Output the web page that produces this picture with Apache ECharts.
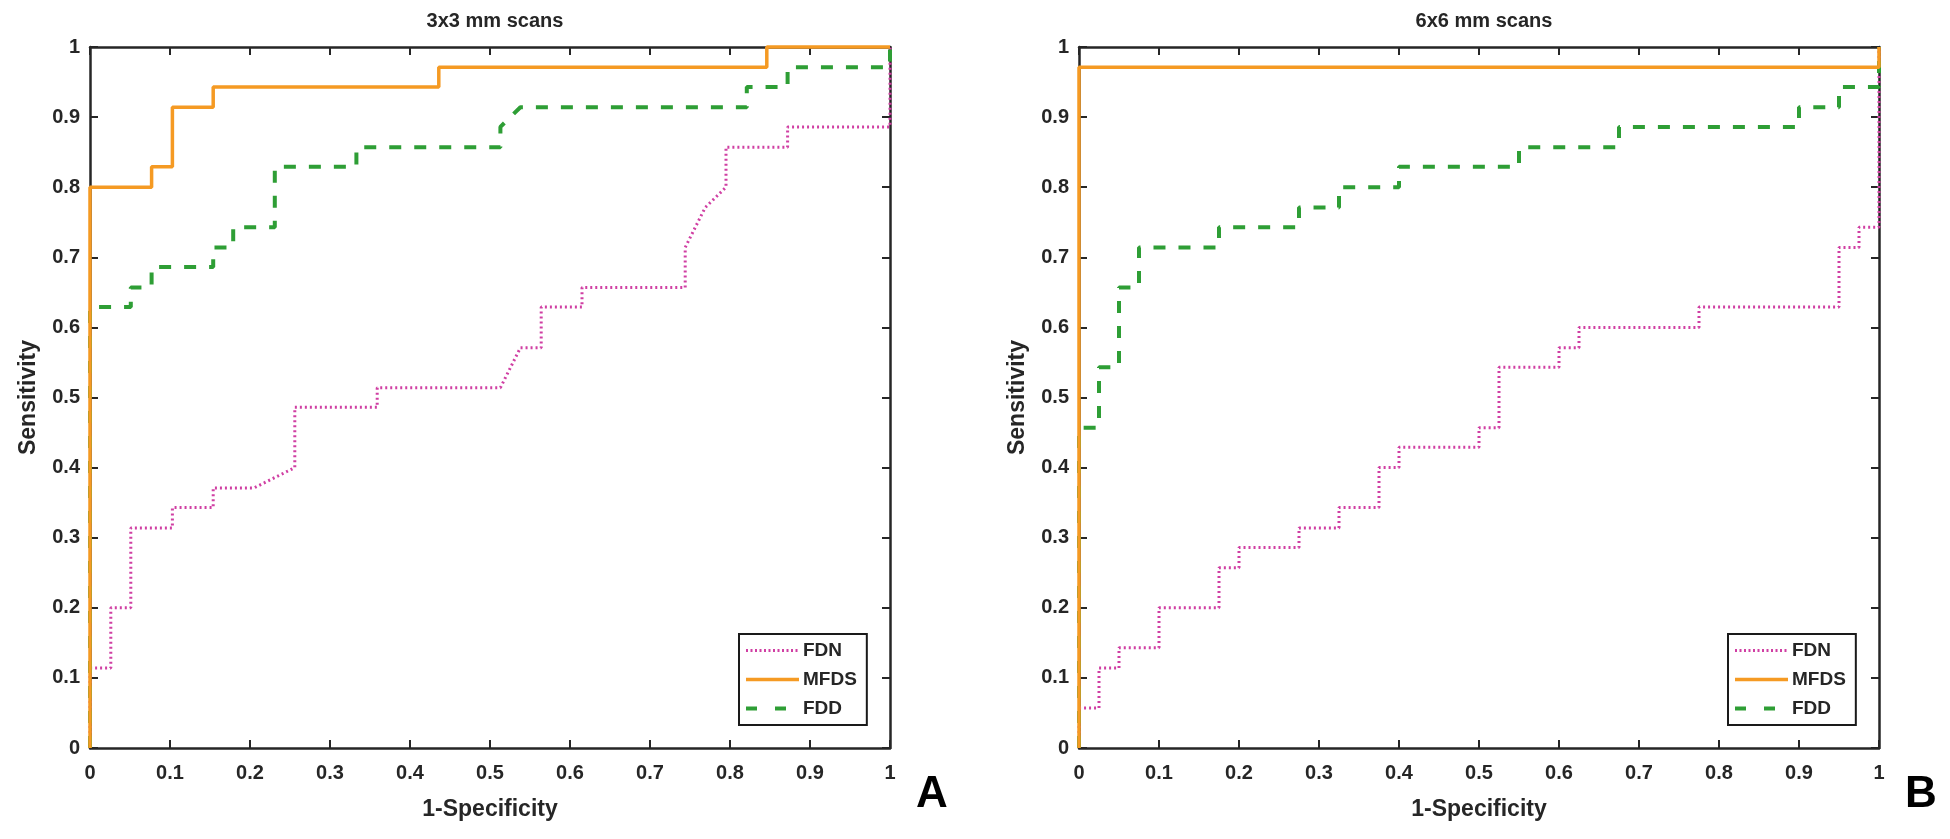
<!DOCTYPE html>
<html>
<head>
<meta charset="utf-8">
<script src="https://cdn.jsdelivr.net/npm/echarts@6/dist/echarts.min.js"></script>
<style>
html,body{margin:0;padding:0;background:#ffffff;}
#chart{width:1950px;height:839px;}
</style>
</head>
<body>
<div id="chart"></div>
<script>
// ---- text ----
const panelTitles = ['3x3 mm scans', '6x6 mm scans'];
const panelLetters = ['A', 'B'];
const seriesNames = ['FDN', 'MFDS', 'FDD'];
const xAxisName = '1-Specificity';
const yAxisName = 'Sensitivity';

// ---- panel A (3x3 mm) ----
const aFdnX  = [0, 0, 0.026, 0.026, 0.051, 0.051, 0.103, 0.103, 0.154, 0.154, 0.205, 0.256, 0.256, 0.359, 0.359, 0.513, 0.538, 0.564, 0.564, 0.615, 0.615, 0.744, 0.744, 0.769, 0.795, 0.795, 0.872, 0.872, 1, 1];
const aFdnY  = [0, 0.114, 0.114, 0.2, 0.2, 0.314, 0.314, 0.343, 0.343, 0.371, 0.371, 0.4, 0.486, 0.486, 0.514, 0.514, 0.571, 0.571, 0.629, 0.629, 0.657, 0.657, 0.714, 0.771, 0.8, 0.857, 0.857, 0.886, 0.886, 1];
const aMfdsX = [0, 0, 0.077, 0.077, 0.103, 0.103, 0.154, 0.154, 0.436, 0.436, 0.846, 0.846, 1];
const aMfdsY = [0, 0.8, 0.8, 0.829, 0.829, 0.914, 0.914, 0.943, 0.943, 0.971, 0.971, 1, 1];
const aFddX  = [0, 0, 0.051, 0.051, 0.077, 0.077, 0.154, 0.154, 0.179, 0.179, 0.231, 0.231, 0.333, 0.333, 0.513, 0.513, 0.538, 0.821, 0.821, 0.872, 0.872, 1, 1];
const aFddY  = [0, 0.629, 0.629, 0.657, 0.657, 0.686, 0.686, 0.714, 0.714, 0.743, 0.743, 0.829, 0.829, 0.857, 0.857, 0.886, 0.914, 0.914, 0.943, 0.943, 0.971, 0.971, 1];

// ---- panel B (6x6 mm) ----
const bFdnX  = [0, 0, 0.025, 0.025, 0.05, 0.05, 0.1, 0.1, 0.175, 0.175, 0.2, 0.2, 0.275, 0.275, 0.325, 0.325, 0.375, 0.375, 0.4, 0.4, 0.5, 0.5, 0.525, 0.525, 0.6, 0.6, 0.625, 0.625, 0.775, 0.775, 0.95, 0.95, 0.975, 0.975, 1, 1];
const bFdnY  = [0, 0.057, 0.057, 0.114, 0.114, 0.143, 0.143, 0.2, 0.2, 0.257, 0.257, 0.286, 0.286, 0.314, 0.314, 0.343, 0.343, 0.4, 0.4, 0.429, 0.429, 0.457, 0.457, 0.543, 0.543, 0.571, 0.571, 0.6, 0.6, 0.629, 0.629, 0.714, 0.714, 0.743, 0.743, 1];
const bMfdsX = [0, 0, 1, 1];
const bMfdsY = [0, 0.971, 0.971, 1];
const bFddX  = [0, 0, 0.025, 0.025, 0.05, 0.05, 0.075, 0.075, 0.175, 0.175, 0.275, 0.275, 0.325, 0.325, 0.4, 0.4, 0.55, 0.55, 0.675, 0.675, 0.9, 0.9, 0.95, 0.95, 1, 1];
const bFddY  = [0, 0.457, 0.457, 0.543, 0.543, 0.657, 0.657, 0.714, 0.714, 0.743, 0.743, 0.771, 0.771, 0.8, 0.8, 0.829, 0.829, 0.857, 0.857, 0.886, 0.886, 0.914, 0.914, 0.943, 0.943, 1];

const zip = (xs, ys) => xs.map((x, i) => [x, ys[i]]);

const FONT = '"Liberation Sans", Arial, sans-serif';
const AXIS_COLOR = '#262626';
const COLORS = { FDN: '#d03fa3', MFDS: '#f59a23', FDD: '#2e9e35' };
const STYLES = {
  FDN:  { width: 3, type: [2, 3] },
  MFDS: { width: 3.5, type: 'solid' },
  FDD:  { width: 4, type: [12, 13] }
};
const LEGEND_STYLES = {
  FDN:  { width: 3, type: [2, 2.5] },
  MFDS: { width: 3.5, type: 'solid' },
  FDD:  { width: 4, type: [11, 18] }
};
const Z = { FDN: 3, FDD: 4, MFDS: 5 };

const panels = [
  { left: 90,   data: { FDN: zip(aFdnX, aFdnY), MFDS: zip(aMfdsX, aMfdsY), FDD: zip(aFddX, aFddY) } },
  { left: 1079, data: { FDN: zip(bFdnX, bFdnY), MFDS: zip(bMfdsX, bMfdsY), FDD: zip(bFddX, bFddY) } }
];
const GRID_TOP = 47, GRID_W = 800, GRID_H = 701;

const grid = [], xAxis = [], yAxis = [], series = [], title = [], legend = [];

const labelStyle = { fontSize: 20, fontWeight: 'bold', color: AXIS_COLOR, fontFamily: FONT };
const lineSt = { color: AXIS_COLOR, width: 2.5 };
const tickSt = { inside: true, length: 8, lineStyle: { color: AXIS_COLOR, width: 2 } };

panels.forEach((p, i) => {
  grid.push({ left: p.left, top: GRID_TOP, width: GRID_W, height: GRID_H, containLabel: false });
  xAxis.push({
    gridIndex: i, type: 'value', min: 0, max: 1, interval: 0.1, position: 'bottom',
    axisLine: { show: true, onZero: false, lineStyle: lineSt },
    axisTick: tickSt,
    axisLabel: Object.assign({ margin: 15 }, labelStyle),
    splitLine: { show: false },
    name: xAxisName, nameLocation: 'middle', nameGap: 50,
    nameTextStyle: { fontSize: 23, fontWeight: 'bold', color: AXIS_COLOR, fontFamily: FONT }
  });
  xAxis.push({
    gridIndex: i, type: 'value', min: 0, max: 1, interval: 0.1, position: 'top',
    axisLine: { show: true, onZero: false, lineStyle: lineSt },
    axisTick: tickSt, axisLabel: { show: false }, splitLine: { show: false }
  });
  yAxis.push({
    gridIndex: i, type: 'value', min: 0, max: 1, interval: 0.1, position: 'left',
    axisLine: { show: true, onZero: false, lineStyle: lineSt },
    axisTick: tickSt,
    axisLabel: Object.assign({ margin: 10 }, labelStyle),
    splitLine: { show: false },
    name: yAxisName, nameLocation: 'middle', nameGap: 50,
    nameTextStyle: { fontSize: 23, fontWeight: 'bold', color: AXIS_COLOR, fontFamily: FONT }
  });
  yAxis.push({
    gridIndex: i, type: 'value', min: 0, max: 1, interval: 0.1, position: 'right',
    axisLine: { show: true, onZero: false, lineStyle: lineSt },
    axisTick: tickSt, axisLabel: { show: false }, splitLine: { show: false }
  });

  seriesNames.forEach(name => {
    series.push({
      name: name, type: 'line', xAxisIndex: i * 2, yAxisIndex: i * 2,
      data: p.data[name], symbol: 'none', showSymbol: false, clip: false,
      z: Z[name], silent: true,
      lineStyle: { color: COLORS[name], width: STYLES[name].width, type: STYLES[name].type, cap: 'butt' },
      itemStyle: { color: COLORS[name] }
    });
  });

  title.push({
    text: panelTitles[i], left: p.left + GRID_W / 2, top: 6, textAlign: 'center',
    textStyle: { fontSize: 20, fontWeight: 'bold', color: AXIS_COLOR, fontFamily: FONT }
  });

  legend.push({
    orient: 'vertical', left: p.left + 649, top: 634,
    data: seriesNames.map(name => ({
      name: name,
      lineStyle: { color: COLORS[name], width: LEGEND_STYLES[name].width, type: LEGEND_STYLES[name].type, cap: 'butt' }
    })),
    selectedMode: false,
    backgroundColor: '#ffffff', borderColor: '#1a1a1a', borderWidth: 2, borderRadius: 0,
    padding: [7, 10, 7, 5], itemWidth: 53, itemHeight: 14, itemGap: 10,
    itemStyle: { opacity: 0 },
    textStyle: { fontSize: 19, fontWeight: 'bold', color: AXIS_COLOR, fontFamily: FONT, padding: [0, 0, 0, -1] }
  });
});

title.push({ text: panelLetters[0], left: 911, top: 768,
  textStyle: { fontSize: 44, fontWeight: 'bold', color: '#000', fontFamily: FONT } });
title.push({ text: panelLetters[1], left: 1900, top: 768,
  textStyle: { fontSize: 44, fontWeight: 'bold', color: '#000', fontFamily: FONT } });

const chart = echarts.init(document.getElementById('chart'), null, { renderer: 'canvas' });
chart.setOption({
  animation: false,
  backgroundColor: '#ffffff',
  title: title, legend: legend, grid: grid, xAxis: xAxis, yAxis: yAxis, series: series
});
</script>
</body>
</html>
